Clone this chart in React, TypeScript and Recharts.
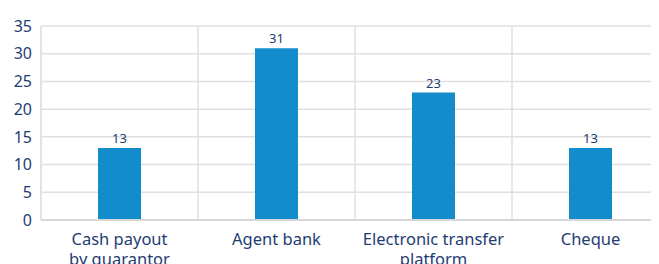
import React from "react";
import { BarChart, Bar, XAxis, YAxis, CartesianGrid, LabelList } from "recharts";

const categories = ["Cash payout\nby guarantor", "Agent bank", "Electronic transfer\nplatform", "Cheque"];
const values = [13, 31, 23, 13];
const yTicks = [0, 5, 10, 15, 20, 25, 30, 35];
const sepTicks = [0, 1, 2, 3, 4];

const data = categories.map((c, i) => ({ name: c, value: values[i], pos: i + 0.5 }));

const TEXT = "#1f3c73";
const FONT = "'Noto Sans', sans-serif";

const XTick = (props: any) => {
  const { x, y, payload } = props;
  const lines = String(payload.value).split("\n");
  return (
    <text x={x} y={y} textAnchor="middle" fill={TEXT} fontSize={16.5} fontFamily={FONT}>
      {lines.map((l: string, i: number) => (
        <tspan key={i} x={x} dy={i === 0 ? 17 : 20}>{l}</tspan>
      ))}
    </text>
  );
};

export default function App() {
  return (
    <BarChart
      width={661}
      height={262}
      data={data}
      margin={{ top: 18, right: 0, bottom: 10, left: 0 }}
      barSize={43}
    >
      <CartesianGrid stroke="#e0e0e0" strokeWidth={1.5} xAxisId="sep" horizontal={true} vertical={true} />
      <XAxis xAxisId="sep" type="number" dataKey="pos" domain={[0, 4]} ticks={sepTicks} hide />
      <XAxis
        dataKey="name"
        interval={0}
        height={40}
        tick={<XTick />}
        tickLine={false}
        axisLine={{ stroke: "#d6d6d6", strokeWidth: 2 }}
      />
      <YAxis
        domain={[0, 35]}
        ticks={yTicks}
        width={33}
        tickSize={0}
        tickMargin={9}
        tickLine={false}
        axisLine={{ stroke: "#e0e0e0", strokeWidth: 1.5 }}
        tick={{ fill: TEXT, fontSize: 16, fontFamily: FONT }}
      />
      <Bar dataKey="value" fill="#128ccb" isAnimationActive={false}>
        <LabelList dataKey="value" position="top" offset={5} fill={TEXT} fontSize={13} fontFamily={FONT} />
      </Bar>
    </BarChart>
  );
}
